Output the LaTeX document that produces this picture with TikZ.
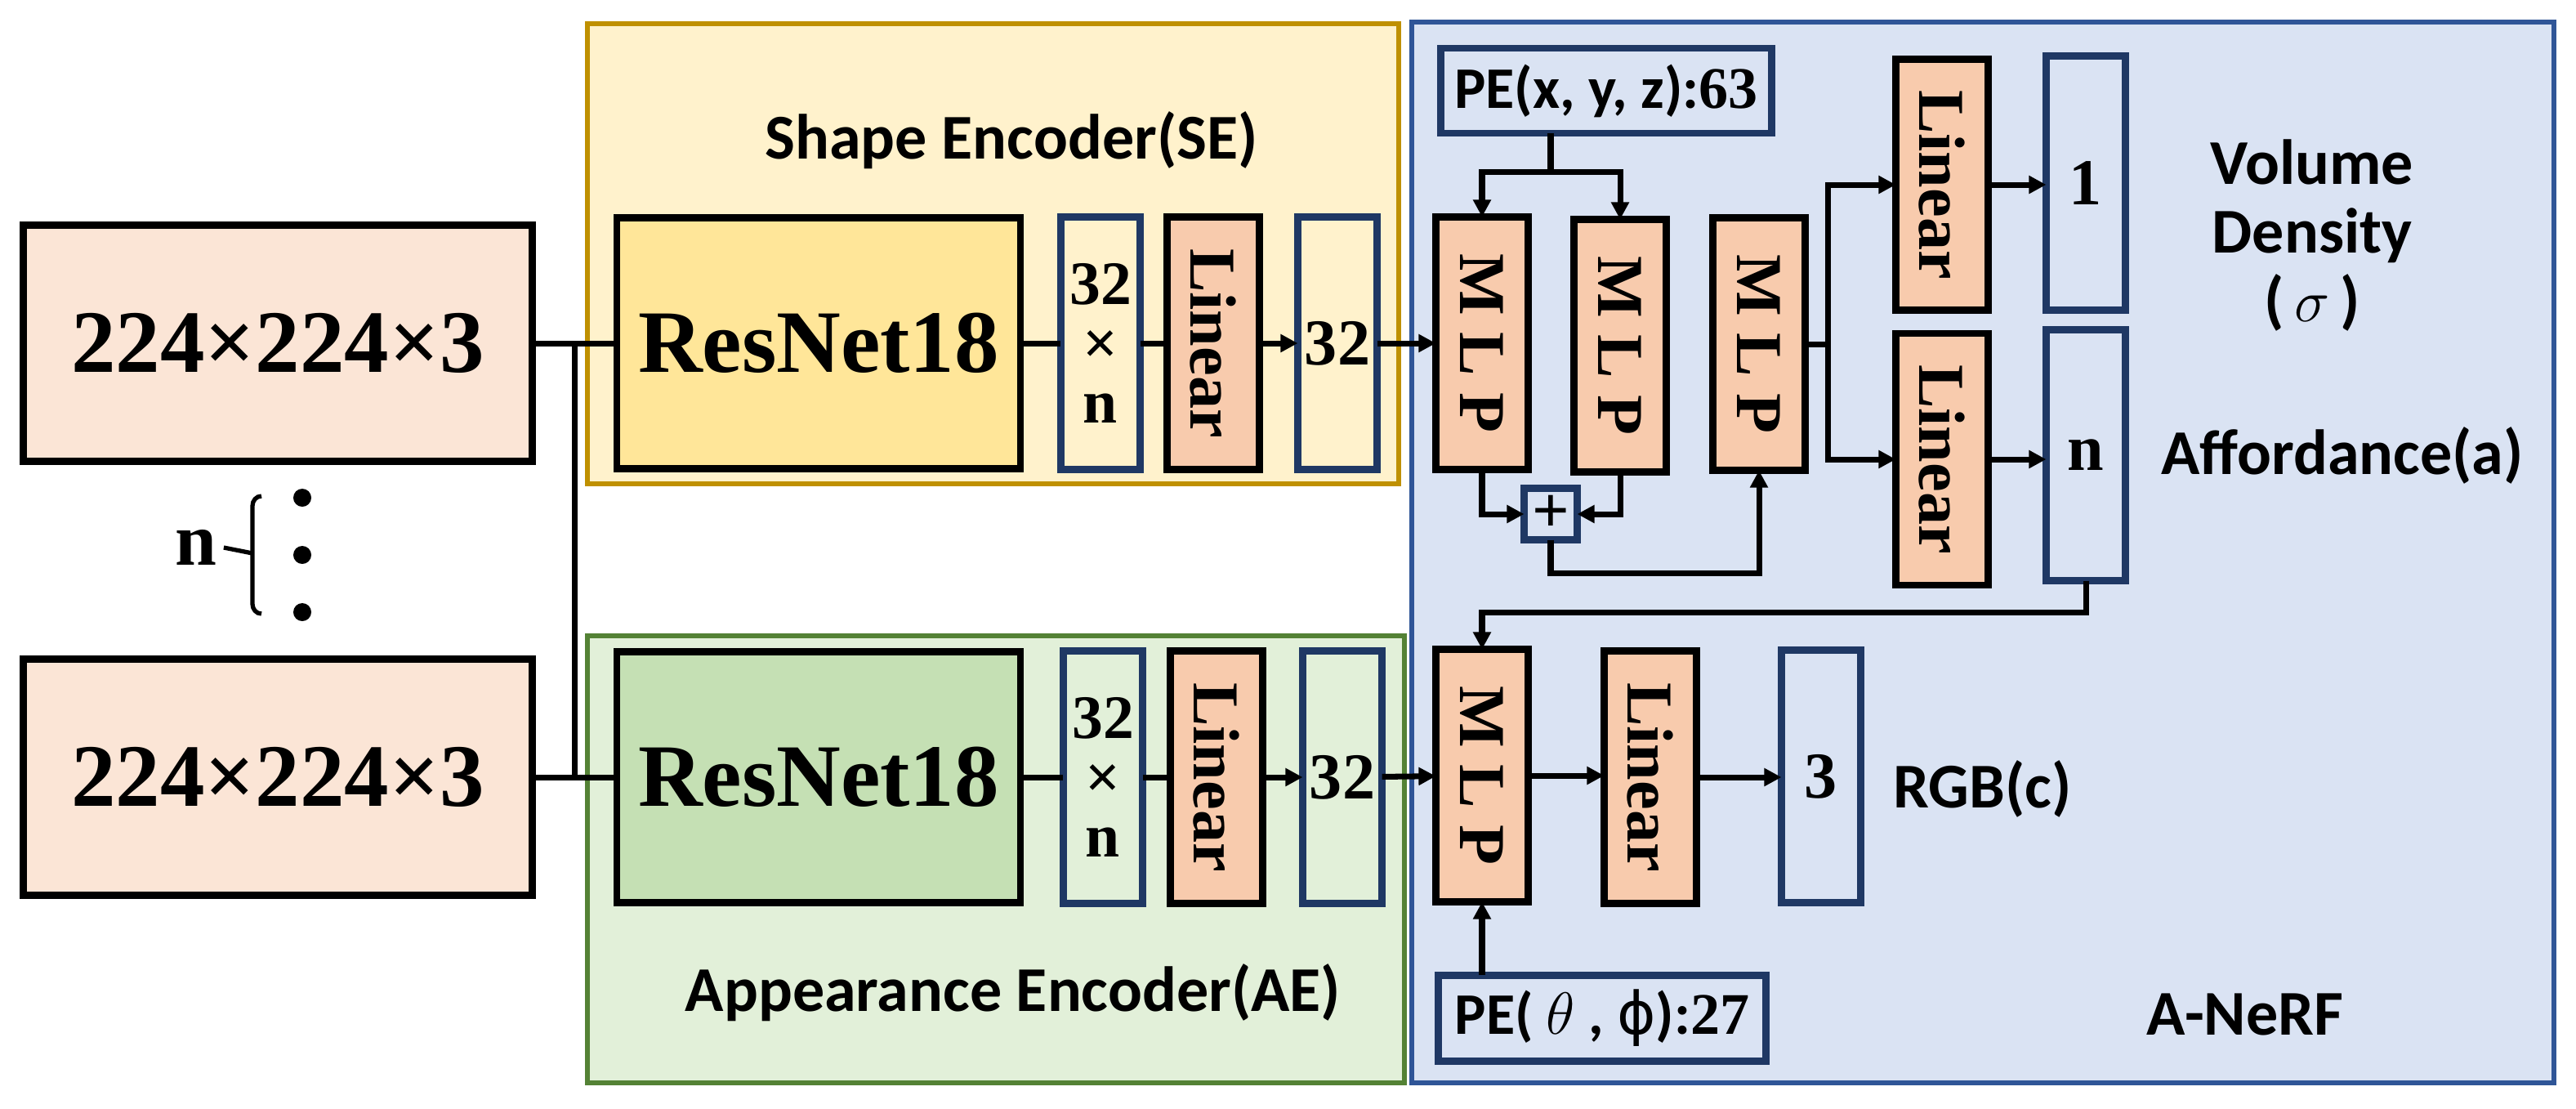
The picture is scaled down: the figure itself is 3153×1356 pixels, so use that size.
\documentclass[tikz,border=0pt]{standalone}
\usepackage{fontspec}
\setmainfont{Liberation Serif}
\newfontfamily\lblfont{Carlito}
\newfontfamily\symfont{DejaVu Sans}
\usetikzlibrary{arrows.meta,calc}
\definecolor{inpfill}{HTML}{FBE5D6}
\definecolor{sefill}{HTML}{FFF2CC}
\definecolor{seline}{HTML}{BF9000}
\definecolor{resA}{HTML}{FFE699}
\definecolor{aefill}{HTML}{E2F0D9}
\definecolor{aeline}{HTML}{548235}
\definecolor{resB}{HTML}{C5E0B4}
\definecolor{nerffill}{HTML}{DAE3F3}
\definecolor{nerfline}{HTML}{2F5597}
\definecolor{navy}{HTML}{1F3864}
\definecolor{linfill}{HTML}{F8CBAD}
\begin{document}
\begin{tikzpicture}[x=0.01cm,y=-0.01cm,
	blk/.style={draw,line width=2.4pt,outer sep=0pt,inner sep=0pt,align=center,font=\bfseries\fontsize{22.8}{19.5}\selectfont},
	inbox/.style={blk,fill=inpfill,minimum width=6.23cm,minimum height=2.89cm,font=\bfseries\fontsize{31}{31}\selectfont},
	resbox/.style={blk,minimum width=4.94cm,minimum height=3.07cm,font=\bfseries\fontsize{31}{31}\selectfont},
	vecbox/.style={blk,draw=navy,minimum width=0.97cm,minimum height=3.09cm},
	dimbox/.style={vecbox,font=\bfseries\fontsize{21.5}{20.5}\selectfont},
	laybox/.style={blk,fill=linfill,minimum width=1.13cm,minimum height=3.09cm},
	pebox/.style={blk,draw=navy,minimum width=4.05cm,minimum height=1.04cm,font=\bfseries\fontsize{20.5}{20.5}\selectfont},
	lbl/.style={align=center,font=\lblfont\bfseries\fontsize{22.2}{24}\selectfont},
	ln/.style={line width=2pt},
	arr/.style={ln,-{Triangle[length=6pt,width=6pt]}}]
	\useasboundingbox (0,0) rectangle (3153,1356);
	% group frames
	\draw[fill=sefill,draw=seline,line width=1.7pt] (719,29) rectangle (1712,592);
	\draw[fill=aefill,draw=aeline,line width=1.7pt] (719,778) rectangle (1719,1325);
	\draw[fill=nerffill,draw=nerfline,line width=1.7pt] (1728,27) rectangle (3126,1325);
	\node[lbl] (se) at (1238,172) {Shape Encoder(SE)};
	\node[lbl] (ae) at (1240,1215) {Appearance Encoder(AE)};
	\node[lbl] (nerf) at (2748,1241) {A-NeRF};
	% inputs
	\node[inbox] (in1) at (340,420) {224×224×3};
	\node[inbox] (in2) at (340,951) {224×224×3};
	\node[font=\bfseries\fontsize{26}{26}\selectfont] (nl) at (240,670) {n};
	\draw[line width=1.5pt] (320,607) to[out=180,in=90] (309,619) -- (309,739) to[out=-90,in=180] (320,751);
	\draw[line width=1.5pt] ([xshift=-0.04cm]nl.east) -- (309,677);
	\foreach \y in {609,679,749} \fill (370,\y) circle[radius=0.11cm];
	% shape encoder
	\node[resbox,fill=resA] (res1) at (1002,420) {ResNet18};
	\node[dimbox] (dim1) at (1347,420) {32\\×\\n};
	\node[laybox] (lin1) at (1485,420) {\rotatebox{-90}{Linear}};
	\node[vecbox] (v1) at (1637,420) {32};
	% appearance encoder
	\node[resbox,fill=resB] (res2) at (1002,951) {ResNet18};
	\node[dimbox] (dim2) at (1350,951) {32\\×\\n};
	\node[laybox] (lin2) at (1489,951) {\rotatebox{-90}{Linear}};
	\node[vecbox] (v2) at (1643,951) {32};
	% A-NeRF
	\node[pebox] (pe1) at (1966,111) {{\lblfont PE(x, y, z):}63};
	\node[laybox] (mlp1) at (1814,420) {\rotatebox{-90}{M L P}};
	\node[laybox] (mlp2) at (1983,423) {\rotatebox{-90}{M L P}};
	\node[laybox] (mlp3) at (2153,421) {\rotatebox{-90}{M L P}};
	\node[blk,draw=navy,minimum width=0.65cm,minimum height=0.63cm] (plus) at (1898,629) {+};
	\node[laybox,minimum height=3.07cm] (linsig) at (2377,226) {\rotatebox{-90}{Linear}};
	\node[vecbox,minimum height=3.11cm] (one) at (2553,224) {1};
	\node[laybox,minimum height=3.08cm] (linaff) at (2377,562) {\rotatebox{-90}{Linear}};
	\node[vecbox,minimum height=3.07cm] (nout) at (2553,557) {n};
	\node[laybox] (mlp4) at (1814,949) {\rotatebox{-90}{M L P}};
	\node[laybox] (linrgb) at (2020,951) {\rotatebox{-90}{Linear}};
	\node[vecbox] (three) at (2229,950) {3};
	\node[pebox,minimum width=4.01cm,minimum height=1.05cm] (pe2) at (1961,1246) {{\lblfont PE( $\theta$ , {\symfont\mdseries ϕ}):}27};
	\node[lbl] (dens) at (2830,288) {Volume\\Density\\(\,$\sigma$\,)};
	\node[lbl] (aff) at (2867,557) {Affordance(a)};
	\node[lbl,anchor=west] (rgb) at (2305,965) {RGB(c)};
	% connectors
	\draw[ln] (in1) -- (res1) (in2) -- (res2);
	\draw[ln] ($(in1.east)!0.5!(res1.west)$) -- ($(in2.east)!0.5!(res2.west)$);
	\draw[ln] (res1) -- (dim1) -- (lin1);
	\draw[ln] (res2) -- (dim2) -- (lin2);
	\draw[arr] (lin1) -- (v1);
	\draw[arr] (v1) -- (mlp1);
	\draw[arr] (lin2) -- (v2);
	\draw[arr] (v2) -- (mlp4);
	\draw[ln] (plus |- pe1.south) -- ++(0,47) coordinate (split);
	\draw[arr] (split) -| (mlp1.north);
	\draw[arr] (split) -| (mlp2.north);
	\draw[arr] (mlp1.south) |- (plus.west);
	\draw[arr] (mlp2.south) |- (plus.east);
	\draw[arr] (plus.south) -- ++(0,41) -| (mlp3.south);
	\draw[ln] (mlp3.east) -- ++(28,0) coordinate (fork);
	\draw[arr] (fork) |- (linsig.west);
	\draw[arr] (fork) |- (linaff.west);
	\draw[arr] (linsig) -- (linsig -| one.west);
	\draw[arr] (linaff) -- (linaff -| nout.west);
	\draw[arr] (nout.south) -- ++(0,39) -| (mlp4.north);
	\draw[arr] (mlp4) -- (mlp4 -| linrgb.west);
	\draw[arr] (linrgb) -- (linrgb -| three.west);
	\draw[arr] (pe2.north -| mlp4.south) -- (mlp4.south);
\end{tikzpicture}
\end{document}
